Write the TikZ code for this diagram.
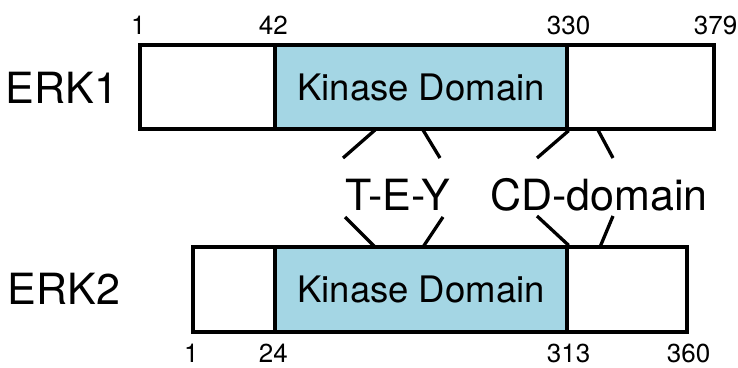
\documentclass[tikz,border=0pt]{standalone}
\usepackage{fontspec}
\setmainfont{TeX Gyre Heros}
\definecolor{kinaseblue}{RGB}{164,214,228}

\begin{document}
\begin{tikzpicture}[x=1pt, y=-1pt, line width=3.3pt,
	segment/.style={draw, rectangle, inner sep=0pt, minimum height=84pt},
	kinase/.style={segment, fill=kinaseblue, font=\fontsize{36.5}{36.5}\selectfont},
	protein/.style={font=\fontsize{43}{43}\selectfont, inner sep=0pt},
	motif/.style={font=\fontsize{43}{43}\selectfont, inner sep=0pt},
	residue/.style={font=\fontsize{26}{26}\selectfont, inner sep=0pt}]
		\useasboundingbox (0, 0) rectangle (738, 367);

		% ERK1
		\node[segment, minimum width=135pt] (NTerm1)  at (207.5, 87) {};
		\node[kinase, minimum width=292pt]  (Kinase1) at (421, 87)   {Kinase Domain};
		\node[segment, minimum width=147pt] (CTerm1)  at (640.5, 87) {};
		\node[protein] (ERK1) at (62, 88) {ERK1};

		% ERK2
		\node[segment, minimum width=82pt, minimum height=85pt]  (NTerm2)  at (234, 289.5) {};
		\node[kinase, minimum width=292pt, minimum height=85pt]  (Kinase2) at (421, 289.5) {Kinase Domain};
		\node[segment, minimum width=120pt, minimum height=85pt] (CTerm2)  at (627, 289.5) {};
		\node[protein] (ERK2) at (64, 289) {ERK2};

		% residue numbers
		\node[residue, above=7pt] (r1a) at (NTerm1.north west)  {1};
		\node[residue, above=7pt] (r1b) at (Kinase1.north west) {42};
		\node[residue, above=7pt] (r1c) at (Kinase1.north east) {330};
		\node[residue, above=7pt] (r1d) at (CTerm1.north east)  {379};
		\node[residue, below=9pt] (r2a) at (NTerm2.south west)  {1};
		\node[residue, below=9pt] (r2b) at (Kinase2.south west) {24};
		\node[residue, below=9pt] (r2c) at (Kinase2.south east) {313};
		\node[residue, below=9pt] (r2d) at (CTerm2.south east)  {360};

		% conserved motifs
		\node[motif] (TEY) at (398, 195) {T-E-Y};
		\node[motif] (CD)  at (599, 195) {CD-domain};

		\coordinate (t1) at (375, 130);
		\coordinate (t2) at (423, 130);
		\coordinate (t3) at (375, 247);
		\coordinate (t4) at (423, 247);
		\coordinate (c1) at (598, 130);
		\coordinate (c2) at (600, 247);

		\draw (t1) -- (343, 158);
		\draw (t2) -- (440, 158);
		\draw (t3) -- (345, 217);
		\draw (t4) -- (443, 217);
		\draw (Kinase1.south east) -- (537, 158);
		\draw (c1) -- (613, 158);
		\draw (Kinase2.north east) -- (537, 216);
		\draw (c2) -- (613, 216);
	\end{tikzpicture}
\end{document}
